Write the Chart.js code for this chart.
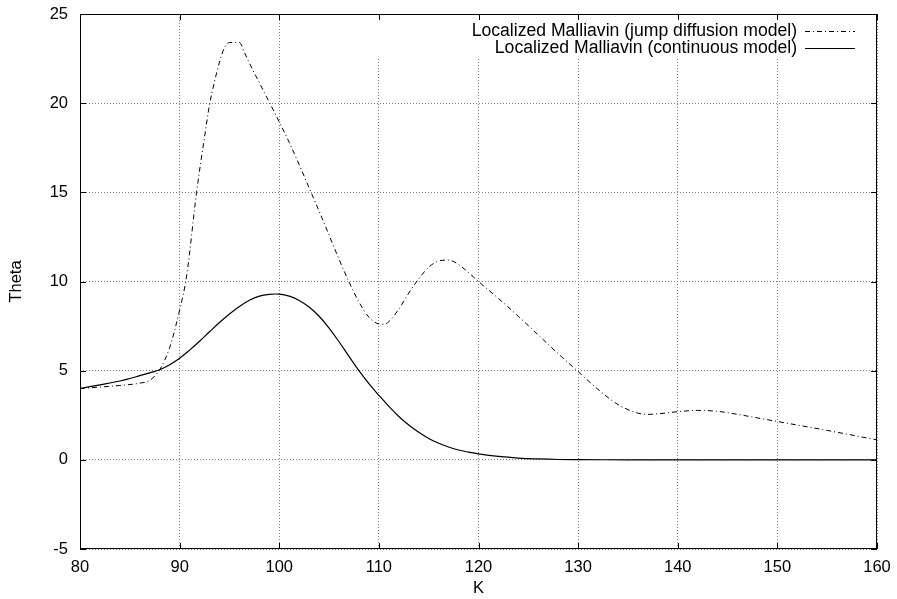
<!DOCTYPE html>
<html>
<head>
<meta charset="utf-8">
<script src="https://cdn.jsdelivr.net/npm/chart.js@4/dist/chart.umd.min.js"></script>
<style>
  html, body { margin: 0; padding: 0; background: #fff; }
  canvas { display: block; }
</style>
</head>
<body>
<canvas id="c" width="897" height="599"></canvas>
<script>
// ---- data ----
const jumpLabel = 'Localized Malliavin (jump diffusion model)';
const contLabel = 'Localized Malliavin (continuous model)';

const jumpK = [80, 82, 84, 86, 87, 87.5, 88, 89, 90, 90.7, 91.7, 92.5, 93, 93.5, 94, 94.5, 95, 96, 96.5, 97, 98, 99,
  100, 101, 102, 103, 104, 105, 106, 107, 108, 109, 110, 110.5, 111, 112, 113, 114, 115, 116, 117, 118, 119,
  120, 122, 124, 126, 128, 130, 132, 134, 136, 137, 138, 140, 142, 144, 146, 148, 150, 155, 160];
const jumpTheta = [4.0, 4.08, 4.17, 4.3, 4.45, 4.7, 5.05, 6.3, 8.4, 10.3, 15.0, 18.1, 19.9, 21.2, 22.3, 23.1, 23.4, 23.4, 22.85, 22.25, 21.15, 20.05,
  18.95, 17.8, 16.55, 15.25, 13.95, 12.6, 11.25, 9.98, 8.85, 8.0, 7.62, 7.6, 7.75, 8.45, 9.35, 10.15, 10.8, 11.15, 11.2, 10.95, 10.5,
  10.0, 9.05, 8.05, 7.0, 5.95, 4.95, 3.95, 3.1, 2.62, 2.55, 2.58, 2.7, 2.77, 2.72, 2.55, 2.35, 2.15, 1.65, 1.12];

const contK = [80, 82, 84, 85, 86, 87, 88, 89, 90, 91, 92, 93, 94, 95, 96, 97, 98, 99, 100, 101, 102, 103, 104,
  105, 106, 107, 108, 109, 110, 111, 112, 113, 114, 115, 116, 117, 118, 119, 120, 122, 124, 126, 128, 130, 135, 140, 150, 160];
const contTheta = [4.0, 4.2, 4.42, 4.56, 4.72, 4.88, 5.05, 5.33, 5.7, 6.15, 6.65, 7.18, 7.7, 8.18, 8.6, 8.95, 9.18, 9.28, 9.29, 9.18, 8.94, 8.57, 8.05,
  7.39, 6.62, 5.8, 5.0, 4.27, 3.62, 3.0, 2.43, 1.95, 1.54, 1.2, 0.93, 0.72, 0.55, 0.43, 0.33, 0.19, 0.1, 0.05, 0.02, 0.01, 0, 0, 0, 0];

const xTitle = 'K';
const yTitle = 'Theta';
const xMin = 80, xMax = 160, xStep = 10;
const yMin = -5, yMax = 25, yStep = 5;

const FONT = "'Liberation Sans', Arial, Helvetica, sans-serif";
const DASHDOT = [5, 3, 1, 3];

function pts(xs, ys) { return xs.map((x, i) => ({ x: x, y: ys[i] })); }

function noOverflow(s) {
  s.paddingTop = 0; s.paddingBottom = 0; s.paddingLeft = 0; s.paddingRight = 0;
}

const framePlugin = {
  id: 'gnuplotFrame',
  beforeDatasetsDraw(chart) {
    const { ctx, chartArea: a } = chart;
    // key area blanks the grid behind the legend
    ctx.save();
    ctx.fillStyle = '#fff';
    ctx.fillRect(365, a.top + 1, a.right - 365 - 1, 57 - a.top - 1);
    ctx.restore();
  },
  afterDatasetsDraw(chart) {
    const { ctx, chartArea: a, scales } = chart;
    ctx.save();
    ctx.strokeStyle = '#000';
    ctx.lineWidth = 1;
    ctx.setLineDash([]);
    ctx.strokeRect(a.left + 0.5, a.top + 0.5, a.right - a.left - 1, a.bottom - a.top - 1);
    // inward mirrored ticks
    const tl = 6;
    ctx.beginPath();
    scales.x.ticks.forEach(t => {
      const px = Math.round(scales.x.getPixelForValue(t.value)) + 0.5;
      ctx.moveTo(px, a.bottom); ctx.lineTo(px, a.bottom - tl);
      ctx.moveTo(px, a.top); ctx.lineTo(px, a.top + tl);
    });
    scales.y.ticks.forEach(t => {
      const py = Math.round(scales.y.getPixelForValue(t.value)) + 0.5;
      ctx.moveTo(a.left, py); ctx.lineTo(a.left + tl, py);
      ctx.moveTo(a.right, py); ctx.lineTo(a.right - tl, py);
    });
    ctx.stroke();

    // key (gnuplot style: right-aligned text, sample on the right)
    ctx.font = '17.6px ' + FONT;
    ctx.fillStyle = '#000';
    ctx.textAlign = 'right';
    ctx.textBaseline = 'middle';
    const rows = [31, 48];
    chart.data.datasets.forEach((ds, i) => {
      const y = rows[i];
      ctx.fillText(ds.label, 797, y);
      ctx.beginPath();
      ctx.setLineDash(ds.borderDash || []);
      ctx.lineWidth = 1;
      ctx.moveTo(805, y + 0.5);
      ctx.lineTo(855, y + 0.5);
      ctx.stroke();
    });
    ctx.restore();
  }
};

new Chart(document.getElementById('c'), {
  type: 'line',
  data: {
    datasets: [
      {
        label: jumpLabel,
        data: pts(jumpK, jumpTheta),
        borderColor: '#000',
        borderWidth: 1,
        borderDash: DASHDOT,
        pointRadius: 0,
        cubicInterpolationMode: 'monotone',
        fill: false
      },
      {
        label: contLabel,
        data: pts(contK, contTheta),
        borderColor: '#000',
        borderWidth: 1.2,
        borderDash: [],
        pointRadius: 0,
        tension: 0.4,
        fill: false
      }
    ]
  },
  options: {
    responsive: false,
    animation: false,
    devicePixelRatio: 1,
    layout: { padding: { top: 14, right: 20, left: 0, bottom: 0 } },
    plugins: { legend: { display: false }, tooltip: { enabled: false } },
    scales: {
      x: {
        type: 'linear',
        min: xMin, max: xMax,
        afterFit(s) { s.height = 50; noOverflow(s); },
        border: { display: false, dash: [1, 2] },
        grid: { color: '#808080', lineWidth: 1, drawTicks: false },
        ticks: { stepSize: xStep, padding: 9, color: '#000', font: { family: FONT, size: 16.5 }, maxRotation: 0 },
        title: { display: true, text: xTitle, color: '#000', font: { family: FONT, size: 16.5 }, padding: { top: 0, bottom: 1 } }
      },
      y: {
        type: 'linear',
        min: yMin, max: yMax,
        afterFit(s) { s.width = 80; noOverflow(s); },
        border: { display: false, dash: [1, 2] },
        grid: { color: '#808080', lineWidth: 1, drawTicks: false },
        ticks: { stepSize: yStep, padding: 12, color: '#000', font: { family: FONT, size: 16.5 } },
        title: { display: true, text: yTitle, color: '#000', font: { family: FONT, size: 16.5 }, padding: { top: 7, bottom: 0 } }
      }
    }
  },
  plugins: [framePlugin]
});
</script>
</body>
</html>
